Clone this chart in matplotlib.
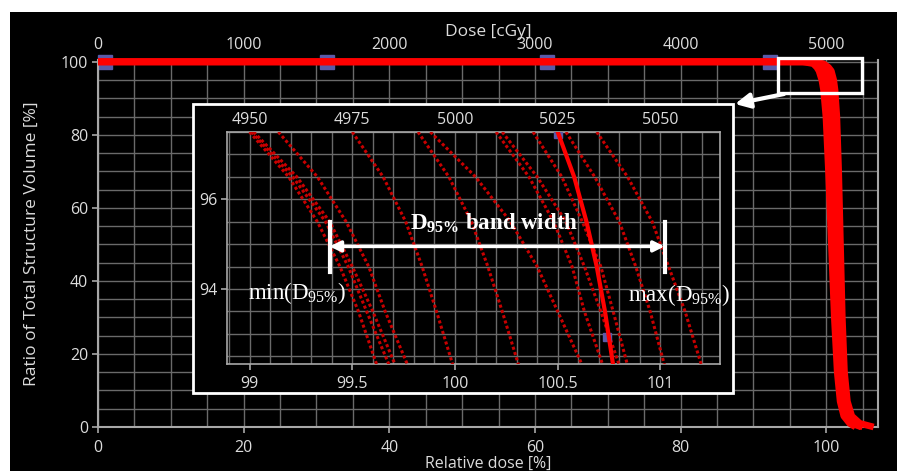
import matplotlib
matplotlib.use("Agg")
import matplotlib.pyplot as plt
from matplotlib.patches import Rectangle, FancyArrowPatch
from matplotlib.ticker import MultipleLocator, FixedLocator

# ---------------- data ----------------
PRESCRIPTION_CGY = 5000  # 100 % relative dose

# Main plot: DVH band (relative dose [%] vs volume [%])
MAIN_VOLUME = [100, 100, 99.5, 98.5, 97.5, 95, 92.3, 85, 70, 50, 30, 15, 7, 3, 1, 0]
MAIN_DOSE_LOW = [0, 96.8, 98.2, 98.7, 99.0, 99.39, 99.62, 99.95, 100.3, 100.7, 101.1, 101.5, 101.9, 102.4, 103.2, 104.0]
MAIN_DOSE_MIDLOW = [0, 97.2, 98.8, 99.4, 99.8, 100.1, 100.3, 100.55, 100.8, 101.1, 101.4, 101.75, 102.15, 102.7, 103.5, 104.8]
MAIN_DOSE_NOMINAL = [0, 97.6, 99.3, 100.2, 100.5, 100.66, 100.77, 100.95, 101.2, 101.45, 101.7, 102.0, 102.4, 102.9, 103.7, 105.0]
MAIN_DOSE_HIGH = [0, 98.0, 99.6, 100.3, 100.69, 101.02, 101.2, 101.45, 101.7, 101.95, 102.2, 102.5, 102.9, 103.5, 104.6, 106.5]

# blue plan markers
MAIN_MARKER_DOSE = [1.0, 31.5, 61.7, 92.3]
MAIN_MARKER_VOL = [100, 100, 100, 100]

# Inset: DVH curves in the D95 region
INSET_VOLUME = [97.5, 96.5, 95.5, 94.5, 93.5, 92.3]
CURVE_1 = [99.00, 99.19, 99.33, 99.44, 99.53, 99.62]
CURVE_2 = [99.01, 99.21, 99.37, 99.48, 99.57, 99.68]
CURVE_3 = [99.02, 99.23, 99.39, 99.50, 99.60, 99.71]
CURVE_4 = [99.14, 99.33, 99.47, 99.58, 99.66, 99.77]
CURVE_5 = [99.50, 99.65, 99.76, 99.84, 99.91, 99.99]
CURVE_6 = [99.82, 99.97, 100.08, 100.16, 100.23, 100.31]
CURVE_7 = [99.88, 100.10, 100.27, 100.40, 100.50, 100.62]
CURVE_8 = [100.20, 100.36, 100.48, 100.57, 100.63, 100.72]
CURVE_9 = [100.23, 100.40, 100.54, 100.63, 100.71, 100.80]
CURVE_10 = [100.38, 100.52, 100.62, 100.71, 100.77, 100.84]
CURVE_11 = [100.54, 100.68, 100.80, 100.88, 100.95, 101.02]
CURVE_12 = [100.69, 100.84, 100.96, 101.04, 101.12, 101.20]
NOMINAL_CURVE = [100.50, 100.58, 100.64, 100.69, 100.73, 100.77]
INSET_MARKER_DOSE = [100.50, 100.74]
INSET_MARKER_VOL = [97.45, 92.93]

D95_MIN = 99.39
D95_MAX = 101.02
D95_LEVEL = 94.95

# ---------------- style ----------------
W, H = 897, 471
TICK_COLOR = "#dcdcdc"
GRID_COLOR = "#6a6a6a"
SPINE_COLOR = "#a8a8a8"
UI_FONT = "Open Sans"
SERIF = "Liberation Serif"
TICK_FS = 11.5
LABEL_FS = 12.5

plt.rcParams["font.family"] = [UI_FONT, "DejaVu Sans"]


def fx(px):
    return px / W


def fy(py):
    return 1 - py / H


fig = plt.figure(figsize=(W / 100, H / 100), dpi=100)
fig.patch.set_facecolor("white")
fig.add_artist(Rectangle((fx(10), 0), 1 - fx(10), fy(12), transform=fig.transFigure,
                         facecolor="black", edgecolor="none", zorder=-5))

# ---------------- main axes ----------------
AX_TOP, AX_BOTTOM = 60, 427
ax = fig.add_axes([fx(98), fy(AX_BOTTOM), fx(878) - fx(98), fy(AX_TOP) - fy(AX_BOTTOM)])
ax.set_facecolor("black")
ax.set_xlim(0, 107.1)
ax.set_ylim(0, 100.5)
ax.xaxis.set_major_locator(MultipleLocator(20))
ax.yaxis.set_major_locator(MultipleLocator(20))
ax.xaxis.set_minor_locator(MultipleLocator(5))
ax.yaxis.set_minor_locator(MultipleLocator(5))
ax.grid(True, which="both", color=GRID_COLOR, lw=1.0)
ax.set_axisbelow(True)
ax.spines["top"].set_visible(False)
for s in ["left", "bottom", "right"]:
    ax.spines[s].set_color(SPINE_COLOR)
    ax.spines[s].set_linewidth(1.5)
ax.tick_params(which="major", colors=SPINE_COLOR, labelcolor=TICK_COLOR, labelsize=TICK_FS,
               length=4, width=1.2, pad=3)
ax.tick_params(axis="x", which="major", pad=5)
ax.tick_params(which="minor", length=0)
ax.set_xlabel("Relative dose [%]", color=TICK_COLOR, fontsize=11.5, va="center")
ax.xaxis.set_label_coords(0.5, (AX_BOTTOM - 464) / (AX_BOTTOM - AX_TOP))
ax.set_ylabel("Ratio of Total Structure Volume [%]", color=TICK_COLOR, fontsize=LABEL_FS,
              labelpad=15)

for d in [MAIN_DOSE_LOW, MAIN_DOSE_MIDLOW, MAIN_DOSE_HIGH, MAIN_DOSE_NOMINAL]:
    ax.plot(d, MAIN_VOLUME, color="#ff0000", lw=4.8, solid_capstyle="butt", zorder=3,
            clip_on=False)
ax.plot(MAIN_MARKER_DOSE, MAIN_MARKER_VOL, ls="none", marker="s", ms=10,
        color="#5a5aa8", zorder=2.5, clip_on=False)

secax = ax.secondary_xaxis("top", functions=(lambda x: x * PRESCRIPTION_CGY / 100,
                                              lambda x: x * 100 / PRESCRIPTION_CGY))
secax.xaxis.set_major_locator(FixedLocator([0, 1000, 2000, 3000, 4000, 5000]))
secax.tick_params(colors=SPINE_COLOR, labelcolor=TICK_COLOR, labelsize=TICK_FS, length=0, pad=5)
secax.spines["top"].set_visible(False)
secax.set_xlabel("Dose [cGy]", color=TICK_COLOR, fontsize=LABEL_FS, labelpad=1)

# zoom box
ax.add_patch(Rectangle((93.4, 91.5), 11.5, 9.6, fill=False, ec="white", lw=2.4,
                       clip_on=False, zorder=6))

# ---------------- inset ----------------
fig.add_artist(Rectangle((fx(193), fy(393)), fx(733) - fx(193), fy(104) - fy(393),
                         transform=fig.transFigure, facecolor="black", edgecolor="white",
                         lw=2, zorder=1))

axi = fig.add_axes([fx(227), fy(364), fx(720) - fx(227), fy(132) - fy(364)], zorder=2)
axi.set_facecolor("black")
axi.set_xlim(98.89, 101.29)
axi.set_ylim(92.33, 97.5)
axi.xaxis.set_major_locator(FixedLocator([99, 99.5, 100, 100.5, 101]))
axi.yaxis.set_major_locator(FixedLocator([94, 96]))
axi.xaxis.set_minor_locator(MultipleLocator(0.1))
axi.yaxis.set_minor_locator(MultipleLocator(0.5))
axi.grid(True, which="both", color=GRID_COLOR, lw=1.0)
axi.set_axisbelow(True)
for s in axi.spines.values():
    s.set_color(SPINE_COLOR)
    s.set_linewidth(1.2)
axi.tick_params(which="major", colors=SPINE_COLOR, labelcolor=TICK_COLOR, labelsize=TICK_FS,
                length=4, width=1.2, pad=3)
axi.tick_params(axis="x", which="major", pad=5)
axi.tick_params(which="minor", length=0)
axi.xaxis.set_major_formatter(plt.FuncFormatter(lambda v, p: f"{v:g}"))

for c in [CURVE_1, CURVE_2, CURVE_3, CURVE_4, CURVE_5, CURVE_6, CURVE_7, CURVE_8,
          CURVE_9, CURVE_10, CURVE_11, CURVE_12]:
    axi.plot(c, INSET_VOLUME, color="#c80000", lw=2.2, ls=(0, (1, 0.8)), zorder=3)
axi.plot(INSET_MARKER_DOSE, INSET_MARKER_VOL, ls="none", marker="s", ms=6,
         color="#5a5aa8", zorder=3.5)
axi.plot(NOMINAL_CURVE, INSET_VOLUME, color="#ff0000", lw=3, zorder=4)

secxi = axi.secondary_xaxis("top", functions=(lambda x: x * PRESCRIPTION_CGY / 100,
                                               lambda x: x * 100 / PRESCRIPTION_CGY))
secxi.xaxis.set_major_locator(FixedLocator([4950, 4975, 5000, 5025, 5050]))
secxi.tick_params(colors=SPINE_COLOR, labelcolor=TICK_COLOR, labelsize=TICK_FS, length=0, pad=3)

# D95 band annotation
axi.annotate("", xy=(D95_MIN, D95_LEVEL), xytext=(D95_MAX, D95_LEVEL),
             arrowprops=dict(arrowstyle="<|-|>", color="white", lw=2.5,
                             mutation_scale=16, shrinkA=0, shrinkB=0), zorder=6)
axi.plot([D95_MIN, D95_MIN], [94.38, 95.49], color="white", lw=3, zorder=6)
axi.plot([D95_MAX, D95_MAX], [94.38, 95.49], color="white", lw=3, zorder=6)
axi.text(99.78, 95.47, r"D$_{\mathregular{95\%}}$ band width", family=SERIF,
         fontweight="bold", fontsize=16.5, color="white", va="center", ha="left", zorder=7)
axi.text(98.99, 93.91, r"min(D$_{\mathregular{95\%}}$)", family=SERIF,
         fontsize=16.5, color="white", va="center", ha="left", zorder=7)
axi.text(100.84, 93.87, r"max(D$_{\mathregular{95\%}}$)", family=SERIF,
         fontsize=16.5, color="white", va="center", ha="left", zorder=7)

# arrow from zoom box to inset
fig.add_artist(FancyArrowPatch((fx(784), fy(94)), (fx(735), fy(104)),
                               transform=fig.transFigure, arrowstyle="-|>",
                               mutation_scale=22, lw=3, color="white", zorder=8,
                               shrinkA=0, shrinkB=0))

fig.savefig("out.png", dpi=100, facecolor=fig.get_facecolor())
